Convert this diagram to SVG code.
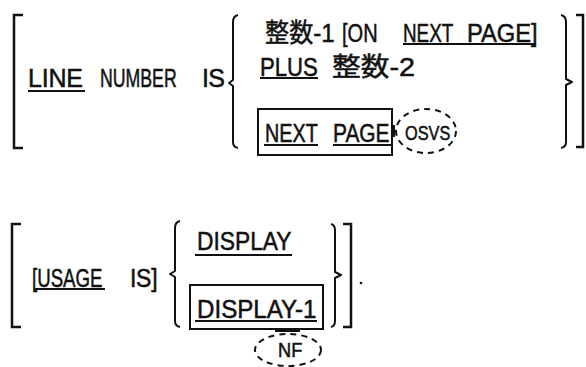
<svg xmlns="http://www.w3.org/2000/svg" width="586" height="367" viewBox="0 0 586 367">
<style>
.t{font-family:"Liberation Sans","Noto Sans CJK JP",sans-serif;font-size:25px;fill:#111;stroke:#111;stroke-width:0.5}
.c{font-size:26px}
.s{font-size:20px}
.ul{stroke:#111;stroke-width:2}
.br{stroke:#111;stroke-width:2.5;fill:none}
.bc{stroke:#111;stroke-width:2;fill:none;stroke-linejoin:round}
.bx{stroke:#111;stroke-width:2;fill:none}
.ds{stroke:#111;stroke-width:2;fill:none;stroke-dasharray:6 5}
</style>
<rect width="586" height="367" fill="#fff"/>
<g id="brackets">
<path class="br" d="M23,15 H14 V148 H23"/>
<path class="br" d="M576,15 H583 V147 H576"/>
<path class="br" d="M21,224 H12 V327 H21"/>
<path class="br" d="M343,224 H351 V327 H343"/>
<path class="bc" d="M238,15 Q233,16 233,22 V80 L229,83 L233,86 V142 Q233,147 238,148"/>
<path class="bc" d="M561,15 Q566,16 566,22 V79 L572,82 L566,85 V142 Q566,147 561,148"/>
<path class="bc" d="M180,221 Q175,222 175,228 V271 L170,274 L175,277 V321 Q175,326 180,327"/>
<path class="bc" d="M331,224 Q335,225 335,230 V272 L341,275 L335,278 V321 Q335,326 331,327"/>
</g>
<g id="line-number">
<text class="t" x="28" y="87" textLength="55" lengthAdjust="spacing">LINE</text>
<line class="ul" x1="28" y1="91" x2="85" y2="91"/>
<text class="t" transform="translate(100,87) scale(0.71,1)" textLength="108" lengthAdjust="spacingAndGlyphs">NUMBER</text>
<text class="t" x="202" y="87" textLength="23" lengthAdjust="spacing">IS</text>
</g>
<g id="row-integer1">
<text class="t c" transform="translate(265,42) scale(0.93,1)" textLength="75" lengthAdjust="spacingAndGlyphs">整数-1</text>
<text class="t" transform="translate(342,42) scale(0.81,1)" textLength="44" lengthAdjust="spacingAndGlyphs">[ON</text>
<text class="t" transform="translate(403,42) scale(0.75,1)" textLength="67" lengthAdjust="spacingAndGlyphs">NEXT</text>
<text class="t" transform="translate(467,42) scale(0.93,1)" textLength="76" lengthAdjust="spacingAndGlyphs">PAGE]</text>
<line class="ul" x1="403" y1="44" x2="536" y2="44"/>
</g>
<g id="row-plus">
<text class="t" transform="translate(260,76) scale(0.89,1)" textLength="65" lengthAdjust="spacingAndGlyphs">PLUS</text>
<line class="ul" x1="260" y1="78" x2="318" y2="78"/>
<text class="t c" x="332" y="76" textLength="83" lengthAdjust="spacingAndGlyphs">整数-2</text>
</g>
<g id="row-next-page">
<rect class="bx" x="258" y="109" width="134" height="46"/>
<text class="t" transform="translate(265,142) scale(0.8,1)" textLength="66" lengthAdjust="spacingAndGlyphs">NEXT</text>
<text class="t" transform="translate(333,142) scale(0.82,1)" textLength="69" lengthAdjust="spacingAndGlyphs">PAGE</text>
<line class="ul" x1="264" y1="145" x2="318" y2="145"/>
<line class="ul" x1="333" y1="145" x2="391" y2="145"/>
<rect x="391" y="125" width="4" height="12" fill="#111"/>
</g>
<g id="osvs">
<ellipse class="ds" cx="426" cy="131" rx="30" ry="22"/>
<text class="t s" transform="translate(405,140) scale(0.81,1)" textLength="56" lengthAdjust="spacingAndGlyphs">OSVS</text>
</g>
<g id="usage">
<text class="t" transform="translate(32,287) scale(0.75,1)" textLength="94" lengthAdjust="spacingAndGlyphs">[USAGE</text>
<line class="ul" x1="35" y1="289" x2="105" y2="289"/>
<text class="t" transform="translate(130,287) scale(0.92,1)" textLength="30" lengthAdjust="spacing">IS]</text>
</g>
<g id="display">
<text class="t" transform="translate(197,250) scale(0.9,1)" textLength="105" lengthAdjust="spacingAndGlyphs">DISPLAY</text>
<line class="ul" x1="195" y1="255" x2="292" y2="255"/>
</g>
<g id="display-1">
<rect class="bx" x="190" y="285" width="133" height="44"/>
<text class="t" transform="translate(197,318) scale(0.94,1)" textLength="127" lengthAdjust="spacingAndGlyphs">DISPLAY-1</text>
<line class="ul" x1="195" y1="321" x2="317" y2="321"/>
<rect x="275" y="328" width="25" height="4" fill="#111"/>
</g>
<g id="nf">
<ellipse class="ds" cx="288" cy="350" rx="33" ry="16"/>
<text class="t s" transform="translate(278,357) scale(0.9,1)" textLength="27" lengthAdjust="spacingAndGlyphs">NF</text>
</g>
<g id="period">
<circle cx="361" cy="283" r="1.3" fill="#111"/>
</g>
<g id="connectors"/>
</svg>
